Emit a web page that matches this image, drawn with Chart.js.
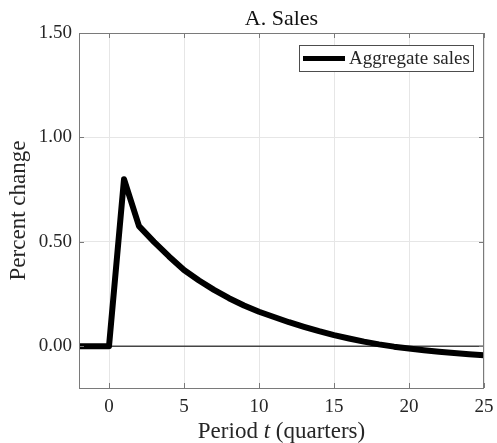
<!DOCTYPE html>
<html>
<head>
<meta charset="utf-8">
<script src="https://cdn.jsdelivr.net/npm/chart.js@4.4.1/dist/chart.umd.min.js"></script>
<style>
  html, body { margin: 0; padding: 0; background: #ffffff; }
  #wrap { width: 497px; height: 443px; }
</style>
</head>
<body>
<div id="wrap"><canvas id="c" width="497" height="443"></canvas></div>
<script>
// Impulse response of aggregate sales (percent change by quarter)
const periods = [-2, -1, 0, 1, 2, 3, 4, 5, 6, 7, 8, 9, 10, 11, 12, 13, 14, 15, 16, 17, 18, 19, 20, 21, 22, 23, 24, 25];
const sales = [0, 0, 0, 0.80, 0.575, 0.50, 0.43, 0.365, 0.315, 0.27, 0.23, 0.195, 0.165, 0.14, 0.115, 0.093, 0.072, 0.053, 0.037, 0.022, 0.009, -0.002, -0.011, -0.019, -0.026, -0.032, -0.038, -0.043];
const xTicks = [0, 5, 10, 15, 20, 25];
const yTicks = [0, 0.5, 1, 1.5];
const xRange = [-2, 25];
const yRange = [-0.2, 1.5];
const chartTitle = 'A. Sales';
const seriesLabel = 'Aggregate sales';
const yAxisTitle = 'Percent change';
const xAxisTitleParts = [['Period ', false], ['t', true], [' (quarters)', false]];

const SERIF = '"Liberation Serif", "Times New Roman", serif';
const TEXT = '#262626';

// Frame, inside ticks, panel title, axis titles and the boxed legend
const decorations = {
  id: 'decorations',
  afterDatasetsDraw(chart) {
    const { ctx, chartArea: a, scales: { x, y } } = chart;
    ctx.save();
    ctx.strokeStyle = '#7a7a7a';
    ctx.lineWidth = 1;
    ctx.strokeRect(a.left + 0.5, a.top + 0.5, a.right - a.left - 1, a.bottom - a.top);
    ctx.beginPath();
    const tl = 5;
    xTicks.forEach(v => {
      const px = Math.round(x.getPixelForValue(v)) + 0.5;
      ctx.moveTo(px, a.bottom); ctx.lineTo(px, a.bottom - tl);
      ctx.moveTo(px, a.top); ctx.lineTo(px, a.top + tl);
    });
    yTicks.forEach(v => {
      const py = Math.round(y.getPixelForValue(v)) + 0.5;
      ctx.moveTo(a.left, py); ctx.lineTo(a.left + tl, py);
      ctx.moveTo(a.right, py); ctx.lineTo(a.right - tl, py);
    });
    ctx.stroke();
    ctx.restore();
  },
  afterDraw(chart) {
    const { ctx, chartArea: a } = chart;
    const cx = (a.left + a.right) / 2;
    ctx.save();

    // panel title
    ctx.fillStyle = '#111111';
    ctx.font = '22px ' + SERIF;
    ctx.textAlign = 'center';
    ctx.textBaseline = 'alphabetic';
    ctx.fillText(chartTitle, cx, 25);

    // x-axis title with italic t
    ctx.fillStyle = TEXT;
    ctx.textAlign = 'left';
    const normalFont = '23px ' + SERIF;
    const italicFont = 'italic 23px ' + SERIF;
    let total = 0;
    xAxisTitleParts.forEach(([s, it]) => { ctx.font = it ? italicFont : normalFont; total += ctx.measureText(s).width; });
    let px = cx - total / 2;
    xAxisTitleParts.forEach(([s, it]) => {
      ctx.font = it ? italicFont : normalFont;
      ctx.fillText(s, px, 438);
      px += ctx.measureText(s).width;
    });

    // y-axis title
    ctx.save();
    ctx.translate(25, (a.top + a.bottom) / 2);
    ctx.rotate(-Math.PI / 2);
    ctx.textAlign = 'center';
    ctx.font = '23px ' + SERIF;
    ctx.fillText(yAxisTitle, 0, 0);
    ctx.restore();

    // legend box
    const bw = 174, bh = 26;
    const bx = a.right - 11 - bw, by = a.top + 12;
    ctx.fillStyle = '#ffffff';
    ctx.fillRect(bx, by, bw, bh);
    ctx.strokeStyle = '#4d4d4d';
    ctx.lineWidth = 1;
    ctx.strokeRect(bx + 0.5, by + 0.5, bw, bh);
    const ds = chart.data.datasets[0];
    ctx.strokeStyle = ds.borderColor;
    ctx.lineWidth = 5;
    ctx.beginPath();
    ctx.moveTo(bx + 4, by + bh / 2 + 0.5);
    ctx.lineTo(bx + 46, by + bh / 2 + 0.5);
    ctx.stroke();
    ctx.fillStyle = TEXT;
    ctx.font = '19px ' + SERIF;
    ctx.textAlign = 'left';
    ctx.textBaseline = 'middle';
    ctx.fillText(ds.label, bx + 50, by + bh / 2 + 1);
    ctx.restore();
  }
};

const fixTicks = list => scale => { scale.ticks = list.map(v => ({ value: v })); };

new Chart(document.getElementById('c'), {
  type: 'line',
  data: {
    datasets: [
      {
        label: seriesLabel,
        data: periods.map((t, i) => ({ x: t, y: sales[i] })),
        borderColor: '#000000',
        borderWidth: 6,
        borderJoinStyle: 'round',
        pointRadius: 0,
        tension: 0,
        fill: false
      },
      {
        label: 'zero',
        data: [{ x: xRange[0], y: 0 }, { x: xRange[1], y: 0 }],
        borderColor: '#444444',
        borderWidth: 1.6,
        pointRadius: 0,
        fill: false
      }
    ]
  },
  options: {
    responsive: false,
    animation: false,
    devicePixelRatio: 1,
    layout: { padding: { top: 33, right: 13, bottom: 0, left: 0 } },
    plugins: {
      legend: { display: false },
      title: { display: false },
      tooltip: { enabled: false }
    },
    scales: {
      x: {
        type: 'linear',
        min: xRange[0],
        max: xRange[1],
        afterBuildTicks: fixTicks(xTicks),
        afterFit: s => { s.height = 55; s.paddingLeft = 0; s.paddingRight = 0; },
        border: { display: false },
        grid: { color: '#e6e6e6', lineWidth: 1, drawTicks: false },
        ticks: {
          padding: 8,
          maxRotation: 0,
          color: TEXT,
          font: { family: SERIF, size: 19 },
          callback: v => String(v)
        }
      },
      y: {
        type: 'linear',
        min: yRange[0],
        max: yRange[1],
        afterBuildTicks: fixTicks(yTicks),
        afterFit: s => { s.width = 79; s.paddingTop = 0; s.paddingBottom = 0; },
        border: { display: false },
        grid: { color: '#e6e6e6', lineWidth: 1, drawTicks: false },
        ticks: {
          padding: 7,
          color: TEXT,
          font: { family: SERIF, size: 19 },
          callback: v => Number(v).toFixed(2)
        }
      }
    }
  },
  plugins: [decorations]
});
</script>
</body>
</html>
